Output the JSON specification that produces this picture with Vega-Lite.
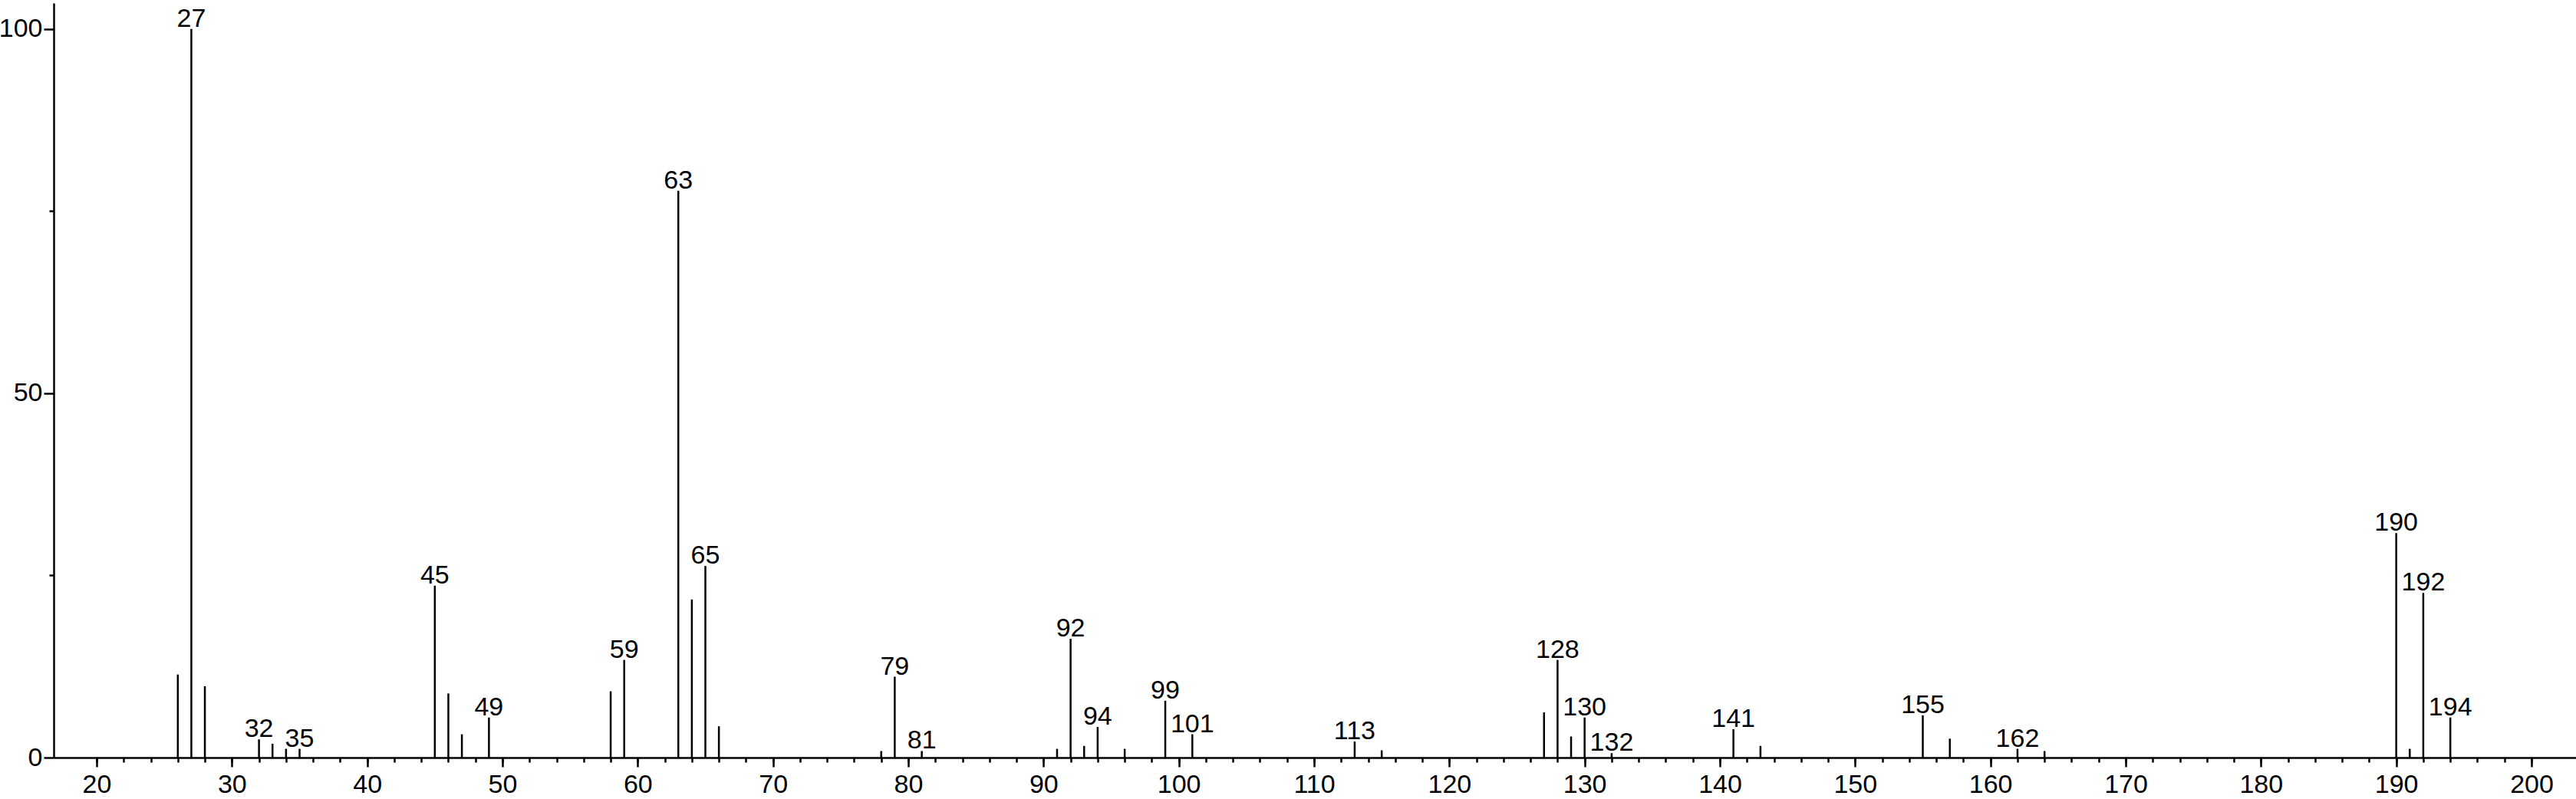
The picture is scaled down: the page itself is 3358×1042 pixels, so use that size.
{
  "$schema": "https://vega.github.io/schema/vega-lite/v6.json",
  "width": 3288,
  "height": 984,
  "autosize": {"type": "none"},
  "padding": {"left": 70, "top": 4, "right": 0, "bottom": 54},
  "background": "white",
  "config": {
    "view": {"stroke": null},
    "font": "Liberation Sans",
    "axis": {
      "domainColor": "black", "domainWidth": 2.5, "tickColor": "black", "tickWidth": 2.5,
      "labelColor": "black", "labelFont": "Liberation Sans", "labelFontSize": 34,
      "grid": false, "title": null
    }
  },
  "data": {
    "values": [
      {"mz": 26, "intensity": 11.4, "label": false},
      {"mz": 27, "intensity": 100, "label": true},
      {"mz": 28, "intensity": 9.8, "label": false},
      {"mz": 32, "intensity": 2.5, "label": true},
      {"mz": 33, "intensity": 1.9, "label": false},
      {"mz": 34, "intensity": 1.2, "label": false},
      {"mz": 35, "intensity": 1.2, "label": true},
      {"mz": 45, "intensity": 23.6, "label": true},
      {"mz": 46, "intensity": 8.8, "label": false},
      {"mz": 47, "intensity": 3.2, "label": false},
      {"mz": 49, "intensity": 5.5, "label": true},
      {"mz": 58, "intensity": 9.1, "label": false},
      {"mz": 59, "intensity": 13.4, "label": true},
      {"mz": 63, "intensity": 77.8, "label": true},
      {"mz": 64, "intensity": 21.7, "label": false},
      {"mz": 65, "intensity": 26.3, "label": true},
      {"mz": 66, "intensity": 4.3, "label": false},
      {"mz": 78, "intensity": 0.9, "label": false},
      {"mz": 79, "intensity": 11.1, "label": true},
      {"mz": 81, "intensity": 0.9, "label": true},
      {"mz": 91, "intensity": 1.2, "label": false},
      {"mz": 92, "intensity": 16.3, "label": true},
      {"mz": 93, "intensity": 1.6, "label": false},
      {"mz": 94, "intensity": 4.2, "label": true},
      {"mz": 96, "intensity": 1.2, "label": false},
      {"mz": 99, "intensity": 7.8, "label": true},
      {"mz": 101, "intensity": 3.2, "label": true},
      {"mz": 113, "intensity": 2.2, "label": true},
      {"mz": 115, "intensity": 1.0, "label": false},
      {"mz": 127, "intensity": 6.2, "label": false},
      {"mz": 128, "intensity": 13.4, "label": true},
      {"mz": 129, "intensity": 2.9, "label": false},
      {"mz": 130, "intensity": 5.5, "label": true},
      {"mz": 132, "intensity": 0.6, "label": true},
      {"mz": 141, "intensity": 3.9, "label": true},
      {"mz": 143, "intensity": 1.6, "label": false},
      {"mz": 155, "intensity": 5.8, "label": true},
      {"mz": 157, "intensity": 2.6, "label": false},
      {"mz": 162, "intensity": 1.2, "label": true},
      {"mz": 164, "intensity": 0.9, "label": false},
      {"mz": 190, "intensity": 30.8, "label": true},
      {"mz": 191, "intensity": 1.2, "label": false},
      {"mz": 192, "intensity": 22.6, "label": true},
      {"mz": 194, "intensity": 5.5, "label": true}
    ]
  },
  "layer": [
    {
      "mark": {"type": "rule", "color": "black", "strokeWidth": 2.5},
      "encoding": {
        "x": {
          "field": "mz", "type": "quantitative",
          "scale": {"domain": [16.824, 203.29], "nice": false, "zero": false},
          "axis": {"orient": "bottom", "values": [20, 30, 40, 50, 60, 70, 80, 90, 100, 110, 120, 130, 140, 150, 160, 170, 180, 190, 200], "tickSize": 12, "labelPadding": 6, "domain": true}
        },
        "y": {
          "field": "intensity", "type": "quantitative",
          "scale": {"domain": [0, 103.55], "nice": false},
          "axis": {"orient": "left", "values": [0, 50, 100], "tickSize": 13, "labelPadding": 2, "domain": true}
        },
        "y2": {"datum": 0}
      }
    },
    {
      "transform": [{"filter": "datum.label"}],
      "mark": {"type": "text", "color": "black", "font": "Liberation Sans", "fontSize": 34, "baseline": "alphabetic", "align": "center", "dy": -3},
      "encoding": {
        "x": {
          "field": "mz", "type": "quantitative",
          "scale": {"domain": [16.824, 203.29], "nice": false, "zero": false},
          "axis": {"orient": "bottom", "values": [20, 22, 24, 26, 28, 30, 32, 34, 36, 38, 40, 42, 44, 46, 48, 50, 52, 54, 56, 58, 60, 62, 64, 66, 68, 70, 72, 74, 76, 78, 80, 82, 84, 86, 88, 90, 92, 94, 96, 98, 100, 102, 104, 106, 108, 110, 112, 114, 116, 118, 120, 122, 124, 126, 128, 130, 132, 134, 136, 138, 140, 142, 144, 146, 148, 150, 152, 154, 156, 158, 160, 162, 164, 166, 168, 170, 172, 174, 176, 178, 180, 182, 184, 186, 188, 190, 192, 194, 196, 198, 200], "tickSize": 6, "labels": false, "domain": false}
        },
        "y": {
          "field": "intensity", "type": "quantitative",
          "scale": {"domain": [0, 103.55], "nice": false},
          "axis": {"orient": "left", "values": [25, 75], "tickSize": 6, "labels": false, "domain": false}
        },
        "text": {"field": "mz", "type": "quantitative"}
      }
    }
  ],
  "resolve": {"axis": {"x": "independent", "y": "independent"}}
}
